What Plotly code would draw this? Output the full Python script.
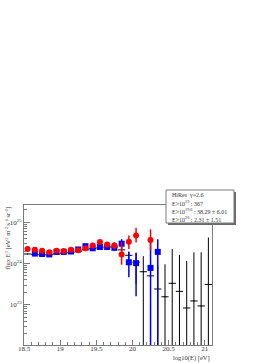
import plotly.graph_objects as go

# ---------------- data ----------------
# bin centres, log10(E/eV)
x_black = [18.55, 18.65, 18.75, 18.85, 18.95, 19.05, 19.15, 19.25, 19.35, 19.45,
           19.55, 19.65, 19.75, 19.85, 19.95, 20.05, 20.15, 20.25, 20.35, 20.45,
           20.55, 20.65, 20.75, 20.85, 20.95, 21.05]
y_black = [1.70e24, 1.66e24, 1.62e24, 1.62e24, 1.70e24, 1.78e24, 1.86e24, 2.00e24, 2.14e24, 2.29e24,
           2.40e24, 2.51e24, 2.51e24, 2.14e24, 1.58e24, 1.07e24, 0.63e24, 0.50e24, 0.24e24, 0.155e24,
           0.33e24, 0.21e24, 0.083e24, 0.123e24, 0.093e24, 0.31e24]
err_black = [0.03e24, 0.03e24, 0.03e24, 0.03e24, 0.04e24, 0.04e24, 0.05e24, 0.06e24, 0.07e24, 0.09e24,
             0.11e24, 0.14e24, 0.18e24, 0.25e24, 0.38e24, 0.75e24, 0.88e24, 0.76e24, 0.65e24, 0.80e24,
             1.91e24, 1.41e24, 1.07e24, 1.74e24, 1.77e24, 3.96e24]
xerr_black = [0.05] * len(x_black)

x_blue = [18.65, 18.75, 18.85, 18.95, 19.05, 19.15, 19.25, 19.35, 19.45, 19.55,
          19.65, 19.75, 19.85, 19.95, 20.05, 20.25, 20.35]
y_blue = [1.74e24, 1.70e24, 1.66e24, 1.91e24, 1.91e24, 1.95e24, 2.19e24, 2.63e24, 2.34e24, 2.51e24,
          2.51e24, 2.40e24, 3.02e24, 1.07e24, 1.02e24, 0.78e24, 1.91e24]
errup_blue = [0.08e24, 0.08e24, 0.08e24, 0.09e24, 0.10e24, 0.11e24, 0.13e24, 0.17e24, 0.20e24, 0.25e24,
              0.30e24, 0.36e24, 0.87e24, 0.84e24, 0.80e24, 2.77e24, 1.98e24]
errdn_blue = [0.08e24, 0.08e24, 0.08e24, 0.09e24, 0.10e24, 0.11e24, 0.13e24, 0.17e24, 0.20e24, 0.25e24,
              0.30e24, 0.36e24, 0.78e24, 0.61e24, 0.86e24, 1.00e24, 2.00e24]

x_red = [18.55, 18.65, 18.75, 18.85, 18.95, 19.05, 19.15, 19.25, 19.35, 19.45,
         19.55, 19.65, 19.75, 19.85, 19.95, 20.05, 20.25]
y_red = [2.24e24, 2.14e24, 2.04e24, 1.86e24, 2.04e24, 2.00e24, 2.14e24, 2.09e24, 2.34e24, 2.75e24,
         3.31e24, 2.88e24, 2.75e24, 1.66e24, 3.39e24, 4.79e24, 3.72e24]
errup_red = [0.10e24, 0.10e24, 0.10e24, 0.10e24, 0.11e24, 0.12e24, 0.14e24, 0.16e24, 0.22e24, 0.28e24,
             0.36e24, 0.45e24, 0.55e24, 1.65e24, 1.40e24, 2.62e24, 3.04e24]
errdn_red = [0.10e24, 0.10e24, 0.10e24, 0.10e24, 0.11e24, 0.12e24, 0.14e24, 0.16e24, 0.22e24, 0.28e24,
             0.36e24, 0.45e24, 0.55e24, 0.73e24, 1.15e24, 1.55e24, 1.68e24]

x_ticks = [18.5, 19, 19.5, 20, 20.5, 21]
x_ticktext = ["18.5", "19", "19.5", "20", "20.5", "21"]
y_major = [1e23, 1e24, 1e25]
y_major_text = ["10<sup>23</sup>", "10<sup>24</sup>", "10<sup>25</sup>"]
y_minor = [float(m) * 10.0 ** d for d in (22, 23, 24, 25) for m in range(2, 10)]

stats_rows = [
    ("HiRes", "\u03b3=2.6"),
    ("E>10<sup>19</sup> : 367", ""),
    ("E>10<sup>19.6</sup> : 38.29 \u00b1 6.01", ""),
    ("E>10<sup>20</sup> : 2.31 \u00b1 1.51", ""),
]

# ---------------- layout geometry ----------------
W, H = 255, 363
L, R, T, B = 24, 212, 205, 345
PW, PH = R - L, B - T


def px(xp):
    return (xp - L) / PW


def py(yp):
    return (B - yp) / PH


FONT = "Liberation Serif"
AXC = "#7a7a7a"
TXC = "#333333"

fig = go.Figure()

fig.add_trace(go.Scatter(
    x=x_black, y=y_black, mode="markers",
    marker=dict(size=1, color="black"),
    error_y=dict(type="data", array=err_black, color="black", thickness=1, width=0),
    error_x=dict(type="data", array=xerr_black, color="black", thickness=1, width=0),
    showlegend=False, hoverinfo="skip"))

fig.add_trace(go.Scatter(
    x=x_blue, y=y_blue, mode="markers",
    marker=dict(size=6, color="#0000ff", symbol="square", line=dict(width=0)),
    error_y=dict(type="data", symmetric=False, array=errup_blue, arrayminus=errdn_blue,
                 color="#0000ff", thickness=1.5, width=0),
    showlegend=False, hoverinfo="skip"))

fig.add_trace(go.Scatter(
    x=x_red, y=y_red, mode="markers",
    marker=dict(size=6, color="#ff0000", symbol="circle", line=dict(width=0)),
    error_y=dict(type="data", symmetric=False, array=errup_red, arrayminus=errdn_red,
                 color="#ff0000", thickness=1.5, width=0),
    showlegend=False, hoverinfo="skip"))

# invisible trace for minor-tick overlay axis
fig.add_trace(go.Scatter(x=[19], y=[1e24], yaxis="y2", mode="markers",
                         marker=dict(size=0.1, opacity=0), showlegend=False, hoverinfo="skip"))

yrange = [22.02, 25.42]

fig.update_layout(
    template="none",
    width=W, height=H,
    margin=dict(l=L, r=W - R, t=T, b=H - B, pad=0, autoexpand=False),
    paper_bgcolor="white", plot_bgcolor="white",
    font=dict(family=FONT, size=7, color=TXC),
    xaxis=dict(
        range=[18.5, 21.1], tickvals=x_ticks, ticktext=x_ticktext,
        ticks="inside", ticklen=5, tickwidth=1, tickcolor=AXC,
        minor=dict(dtick=0.1, tick0=18.5, ticks="inside", ticklen=3, tickcolor=AXC, showgrid=False),
        showline=True, linecolor=AXC, linewidth=1, mirror=True,
        showgrid=False, zeroline=False, automargin=False,
        tickfont=dict(family=FONT, size=7, color=TXC),
        ticklabelstandoff=-3,
    ),
    yaxis=dict(
        type="log", range=yrange, tickvals=y_major, ticktext=y_major_text,
        ticks="inside", ticklen=6, tickwidth=1, tickcolor=AXC,
        showline=True, linecolor=AXC, linewidth=1, mirror=True,
        showgrid=False, zeroline=False, automargin=False,
        tickfont=dict(family=FONT, size=7, color=TXC),
    ),
    yaxis2=dict(
        type="log", range=yrange, overlaying="y", side="left", anchor="x",
        tickvals=y_minor, ticks="inside", ticklen=3, tickwidth=1, tickcolor=AXC,
        showticklabels=False, showline=False, showgrid=False, zeroline=False, automargin=False,
    ),
)

# stats box (shadow + box)
bx0, bx1, by0, by1 = 166, 234, 190, 223
fig.add_shape(type="rect", xref="paper", yref="paper",
              x0=px(bx0 + 2), x1=px(bx1 + 2), y0=py(by1 + 2), y1=py(by0 + 2),
              fillcolor="#6a6a6a", line=dict(width=0), layer="above")
fig.add_shape(type="rect", xref="paper", yref="paper",
              x0=px(bx0), x1=px(bx1), y0=py(by1), y1=py(by0),
              fillcolor="white", line=dict(color="#7a7a7a", width=1), layer="above")

row_y = [194.5, 202.8, 211.3, 219.3]
for (left_txt, right_txt), yy in zip(stats_rows, row_y):
    fig.add_annotation(x=px(170), y=py(yy), xref="paper", yref="paper",
                       text=left_txt, showarrow=False, xanchor="left", yanchor="middle",
                       font=dict(family=FONT, size=6, color=TXC))
    if right_txt:
        fig.add_annotation(x=px(187), y=py(yy), xref="paper", yref="paper",
                           text=right_txt, showarrow=False, xanchor="left", yanchor="middle",
                           font=dict(family=FONT, size=6, color=TXC))

# axis titles
fig.add_annotation(x=px(212), y=py(357.5), xref="paper", yref="paper",
                   text="log10(E) [eV]", showarrow=False, xanchor="right", yanchor="middle",
                   font=dict(family=FONT, size=6.5, color=TXC))
fig.add_annotation(x=px(8), y=py(205), xref="paper", yref="paper",
                   text="flux E<sup>3</sup> [eV<sup>2</sup> m<sup>-2</sup> s<sup>-1</sup> sr<sup>-1</sup>]",
                   textangle=-90, showarrow=False, xanchor="center", yanchor="top",
                   font=dict(family=FONT, size=6.5, color=TXC))

fig.write_html("out.html",
               config={"displayModeBar": False},
               post_script="document.body.style.margin='0';document.body.style.overflow='hidden';")
